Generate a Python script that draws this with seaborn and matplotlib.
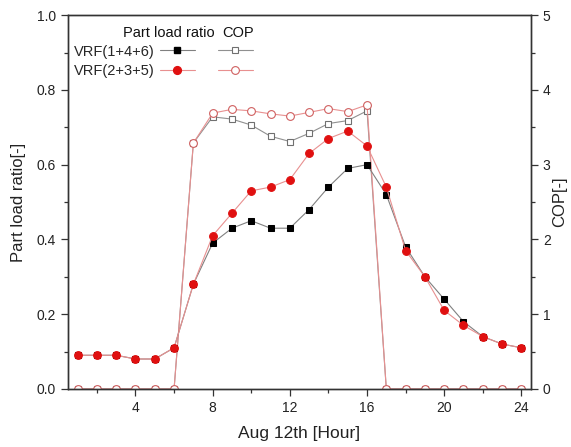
import numpy as np
import pandas as pd
import matplotlib
matplotlib.use("Agg")
import matplotlib.pyplot as plt
import seaborn as sns
from matplotlib.ticker import MultipleLocator
from matplotlib.lines import Line2D

sns.set_style("ticks")
plt.rcParams['font.family'] = ['Liberation Sans', 'DejaVu Sans']

hours = list(range(1, 25))
plr_146 = [0.09, 0.09, 0.09, 0.08, 0.08, 0.11, 0.28, 0.39, 0.43, 0.45, 0.43, 0.43,
           0.48, 0.54, 0.59, 0.60, 0.52, 0.38, 0.30, 0.24, 0.18, 0.14, 0.12, 0.11]
plr_235 = [0.09, 0.09, 0.09, 0.08, 0.08, 0.11, 0.28, 0.41, 0.47, 0.53, 0.54, 0.56,
           0.63, 0.67, 0.69, 0.65, 0.54, 0.37, 0.30, 0.21, 0.17, 0.14, 0.12, 0.11]
cop_146 = [0, 0, 0, 0, 0, 0, 3.29, 3.64, 3.61, 3.53, 3.38, 3.31,
           3.42, 3.55, 3.59, 3.72, 0, 0, 0, 0, 0, 0, 0, 0]
cop_235 = [0, 0, 0, 0, 0, 0, 3.29, 3.69, 3.74, 3.72, 3.68, 3.65,
           3.70, 3.75, 3.71, 3.80, 0, 0, 0, 0, 0, 0, 0, 0]
labels = ['VRF(1+4+6)', 'VRF(2+3+5)']

fig = plt.figure(figsize=(5.71, 4.47), dpi=100)
ax = fig.add_axes([0.119, 0.130, 0.811, 0.836])
ax2 = ax.twinx()

red = '#e01010'
pink = '#e89090'

sq_style = dict(marker='s', markersize=5)
ci_style = dict(marker='o', markersize=5.6)

sns.lineplot(x=hours, y=cop_146, ax=ax2, color='#909090', lw=0.8,
             markerfacecolor='white', markeredgecolor='#707070',
             markeredgewidth=0.8, **sq_style)
sns.lineplot(x=hours, y=cop_235, ax=ax2, color=pink, lw=0.8,
             markerfacecolor='white', markeredgecolor='#d06060',
             markeredgewidth=0.8, **ci_style)
sns.lineplot(x=hours, y=plr_146, ax=ax, color='#808080', lw=0.8,
             markerfacecolor='black', markeredgecolor='black', **sq_style)
sns.lineplot(x=hours, y=plr_235, ax=ax, color=pink, lw=0.8,
             markerfacecolor=red, markeredgecolor=red, **ci_style)

ax.set_zorder(ax2.get_zorder() + 1)
ax.patch.set_visible(False)

ax.set_xlim(0.5, 24.5)
ax.set_ylim(0, 1.0)
ax2.set_ylim(0, 5)
ax.xaxis.set_major_locator(MultipleLocator(4))
ax.xaxis.set_minor_locator(MultipleLocator(2))
ax.yaxis.set_major_locator(MultipleLocator(0.2))
ax.yaxis.set_minor_locator(MultipleLocator(0.1))
ax2.yaxis.set_major_locator(MultipleLocator(1))
ax2.yaxis.set_minor_locator(MultipleLocator(0.5))
ax.yaxis.set_major_formatter(matplotlib.ticker.FormatStrFormatter('%.1f'))

for a in (ax, ax2):
    for s in a.spines.values():
        s.set_visible(True)
        s.set_color('#333333')
        s.set_linewidth(1.0)
    a.tick_params(which='major', length=5, width=0.9, color='#333333',
                  labelsize=10, labelcolor='#222222', direction='out')
    a.tick_params(which='minor', length=3, width=0.9, color='#333333', direction='out')
ax.tick_params(axis='x', top=False, which='both')

ax.set_xlabel('Aug 12th [Hour]', fontsize=12.5, color='#222222', labelpad=8)
ax.set_ylabel('Part load ratio[-]', fontsize=12, color='#222222', labelpad=8)
ax2.set_ylabel('COP[-]', fontsize=12, color='#222222', labelpad=1)

hA = Line2D([], [], color='#808080', lw=0.8, markerfacecolor='black',
            markeredgecolor='black', **sq_style)
hB = Line2D([], [], color=pink, lw=0.8, markerfacecolor=red,
            markeredgecolor=red, **ci_style)
hC = Line2D([], [], color='#909090', lw=0.8, markerfacecolor='white',
            markeredgecolor='#707070', markeredgewidth=0.8, **sq_style)
hD = Line2D([], [], color=pink, lw=0.8, markerfacecolor='white',
            markeredgecolor='#d06060', markeredgewidth=0.8, **ci_style)
leg = ax.legend([hA, hB, hC, hD], [labels[0], labels[1], '', ''], ncol=2,
                markerfirst=False, frameon=False, loc='upper left',
                bbox_to_anchor=(-0.005, 0.945), fontsize=10.5, handlelength=2.4,
                handletextpad=0.3, columnspacing=1.3, labelspacing=0.4,
                borderaxespad=0.2)
ax.text(0.118, 0.972, 'Part load ratio', transform=ax.transAxes, fontsize=10.5,
        va='top', ha='left', color='#111111')
ax.text(0.333, 0.972, 'COP', transform=ax.transAxes, fontsize=10.5,
        va='top', ha='left', color='#111111')

fig.savefig('out.png', dpi=100)
